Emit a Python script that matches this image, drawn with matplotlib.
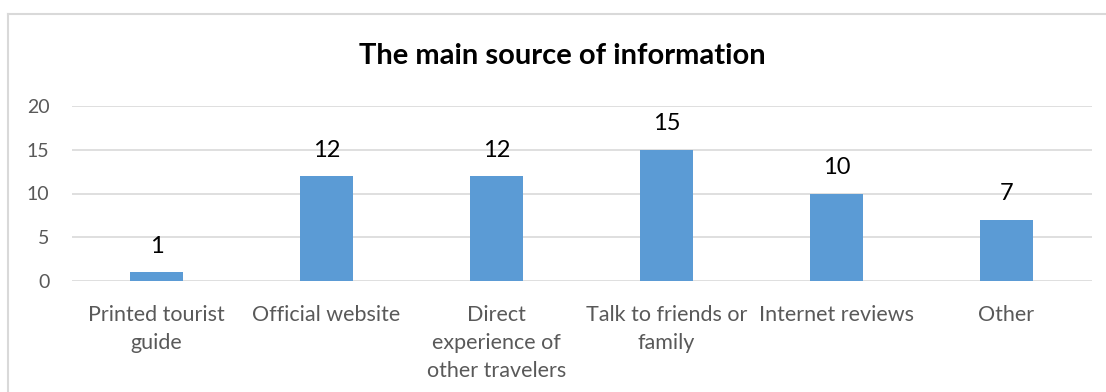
import matplotlib
matplotlib.use("Agg")
import matplotlib.pyplot as plt
from matplotlib.lines import Line2D

categories = [
    "Printed tourist\nguide",
    "Official website",
    "Direct\nexperience of\nother travelers",
    "Talk to friends or\nfamily",
    "Internet reviews",
    "Other",
]
values = [1, 12, 12, 15, 10, 7]
y_ticks = [0, 5, 10, 15, 20]
title = "The main source of information"

BAR = "#5B9BD5"
GRID = "#D9D9D9"
TICK = "#595959"

plt.rcParams["font.family"] = ["Lato", "DejaVu Sans"]

W, H = 1106, 392
fig = plt.figure(figsize=(W / 100, H / 100), dpi=100)

# chart frame (extends past right/bottom edges)
fig.add_artist(Line2D([7.5 / W, 7.5 / W], [0, 1 - 13.5 / H], transform=fig.transFigure,
                      color=GRID, lw=1.5))
fig.add_artist(Line2D([7.5 / W, 1], [1 - 13.5 / H, 1 - 13.5 / H], transform=fig.transFigure,
                      color=GRID, lw=1.5))

left, right = 71.5 / W, 1091.5 / W
bottom, top = (H - 281) / H, (H - 106) / H
ax = fig.add_axes([left, bottom, right - left, top - bottom])

x = list(range(len(categories)))
bars = ax.bar(x, values, width=0.31, color=BAR, zorder=3)
ax.set_xlim(-0.5, len(categories) - 0.5)
ax.set_ylim(0, 20)
ax.set_yticks(y_ticks)
ax.set_xticks(x)
ax.set_xticklabels(categories, fontsize=15.5, color=TICK, linespacing=1.5)
ax.tick_params(axis="x", length=0, pad=17)
ax.tick_params(axis="y", length=0, pad=16, labelsize=14, labelcolor=TICK)

ax.grid(axis="y", color=GRID, lw=1.2, zorder=0)
for s in ax.spines.values():
    s.set_visible(False)

for xi, v in zip(x, values):
    ax.annotate(str(v), (xi, v), xytext=(0, 14), textcoords="offset points",
                ha="center", va="baseline", fontsize=17, color="black")

fig.text(562 / W, 1 - 56 / H, title, ha="center", va="center",
         fontsize=21, fontweight="bold", color="black")

fig.savefig("out.png", dpi=100)
